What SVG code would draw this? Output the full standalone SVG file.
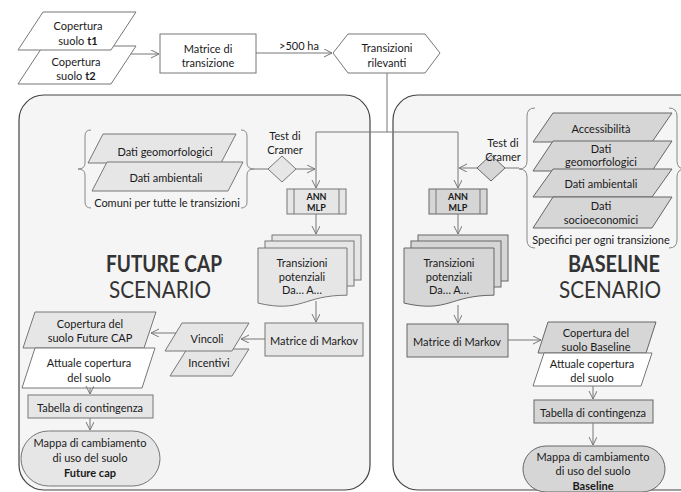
<svg xmlns="http://www.w3.org/2000/svg" width="681" height="492" viewBox="0 0 681 492">
<defs>
<marker id="ah" markerWidth="10" markerHeight="10" refX="8" refY="4" orient="auto" markerUnits="userSpaceOnUse">
<path d="M0,0 L8,4 L0,8" fill="none" stroke="#777" stroke-width="1"/>
</marker>
<style>
text{font-family:Lato,"Liberation Sans",sans-serif;font-size:11px;fill:#1a1a1a;text-anchor:middle;dominant-baseline:central}
.b{font-weight:bold}
.s{font-size:9px;font-weight:bold}
.big{font-size:23px;fill:#333}
.panel{fill:#f5f5f5;stroke:#444;stroke-width:1.2}
.w{fill:#fff;stroke:#777;stroke-width:1}
.l{fill:#e6e6e6;stroke:#777;stroke-width:1}
.d{fill:#d6d6d6;stroke:#666;stroke-width:1}
.c{fill:none;stroke:#777;stroke-width:1}
.ca{fill:none;stroke:#777;stroke-width:1;marker-end:url(#ah)}
.br{fill:none;stroke:#888;stroke-width:1}
</style>
</defs>
<rect width="681" height="492" fill="#fff"/>

<g id="panel-future">
<rect class="panel" x="19" y="95" width="351" height="395" rx="25"/>
<text class="big b" x="164" y="263" textLength="116" lengthAdjust="spacingAndGlyphs">FUTURE CAP</text>
<text class="big" x="160" y="289" textLength="102" lengthAdjust="spacingAndGlyphs">SCENARIO</text>
</g>
<g id="panel-baseline">
<rect class="panel" x="393" y="95" width="320" height="395" rx="25"/>
<text class="big b" x="614" y="263" textLength="92" lengthAdjust="spacingAndGlyphs">BASELINE</text>
<text class="big" x="610" y="289" textLength="102" lengthAdjust="spacingAndGlyphs">SCENARIO</text>
</g>

<g id="t2">
<polygon class="w" points="43,46 136,46 111,84 18,84"/>
<text x="76" y="61">Copertura</text>
<text x="76" y="75">suolo <tspan class="b">t2</tspan></text>
</g>
<g id="t1">
<polygon class="w" points="43,12 136,12 111,50 18,50"/>
<text x="78" y="25">Copertura</text>
<text x="78" y="40">suolo <tspan class="b">t1</tspan></text>
</g>
<g id="matrice-transizione">
<rect class="w" x="160" y="34" width="96" height="39"/>
<text x="208" y="48">Matrice di</text>
<text x="208" y="62">transizione</text>
</g>
<g id="transizioni-rilevanti">
<polygon class="w" points="333,53 348,34 425,34 440,53 425,73 348,73"/>
<text x="387" y="47">Transizioni</text>
<text x="387" y="62">rilevanti</text>
</g>

<!-- Future CAP side -->
<g id="brace-left">
<path class="br" d="M91,130 Q85,130 85,136 L85,163 Q85,169 78,169 Q85,169 85,175 L85,202 Q85,208 91,208"/>
<path class="br" d="M241,130 Q247,130 247,136 L247,163 Q247,169 254,169 Q247,169 247,175 L247,202 Q247,208 241,208"/>
<text x="167" y="202">Comuni per tutte le transizioni</text>
</g>
<g id="dati-geomorfologici-l">
<polygon class="l" points="103,134 236,134 221,163 88,163"/>
<text x="165" y="151">Dati geomorfologici</text>
</g>
<g id="dati-ambientali-l">
<polygon class="l" points="107,162 243,162 228,191 92,191"/>
<text x="166" y="177">Dati ambientali</text>
</g>
<g id="cramer-l">
<polygon class="l" points="268,169 282,156 296,169 282,182"/>
<text x="285" y="135">Test di</text>
<text x="285" y="149">Cramer</text>
</g>
<g id="ann-l">
<rect class="l" x="287" y="189" width="59" height="25"/>
<line class="c" x1="294" y1="189" x2="294" y2="214"/>
<line class="c" x1="339" y1="189" x2="339" y2="214"/>
<text class="s" x="316.5" y="196.5">ANN</text>
<text class="s" x="316.5" y="207">MLP</text>
</g>
<g id="docs-l">
<rect class="l" x="272" y="235" width="89" height="45"/>
<rect class="l" x="265" y="241" width="89" height="45"/>
<path class="l" d="M258,248 H347 V295.2 C302.5,295.2 302.5,313.3 258,303.1 Z"/>
<text x="302" y="262">Transizioni</text>
<text x="302" y="276">potenziali</text>
<text x="302" y="289">Da… A…</text>
</g>
<g id="markov-l">
<rect class="l" x="265" y="323" width="98" height="33"/>
<text x="314" y="340">Matrice di Markov</text>
</g>
<g id="incentivi">
<polygon class="l" points="187,349 249,349 232,376 170,376"/>
<text x="209" y="362">Incentivi</text>
</g>
<g id="vincoli">
<polygon class="l" points="182,323 249,323 232,351 165,351"/>
<text x="207" y="338">Vincoli</text>
</g>
<g id="copertura-futurecap">
<polygon class="l" points="35,312 156,312 144,348 23,348"/>
<text x="90" y="323">Copertura del</text>
<text x="90" y="337">suolo Future CAP</text>
</g>
<g id="attuale-l">
<polygon class="w" points="35,348 155,348 142,388 22,388"/>
<text x="89" y="362">Attuale copertura</text>
<text x="89" y="377">del suolo</text>
</g>
<g id="tabella-l">
<rect class="l" x="28" y="395" width="125" height="23"/>
<text x="90" y="407">Tabella di contingenza</text>
</g>
<g id="mappa-l">
<rect class="l" x="21" y="431" width="139" height="55" rx="27.5"/>
<text x="90" y="442">Mappa di cambiamento</text>
<text x="90" y="457">di uso del suolo</text>
<text class="b" x="90" y="472">Future cap</text>
</g>

<!-- Baseline side -->
<g id="brace-right">
<path class="br" d="M535,108 Q527,108 527,116 L527,161 Q527,169 519,169 Q527,169 527,177 L527,240 Q527,248 535,248"/>
<path class="br" d="M669,108 Q677,108 677,116 L677,161 Q677,169 685,169 Q677,169 677,177 L677,240 Q677,248 669,248"/>
<text x="601" y="239">Specifici per ogni transizione</text>
</g>
<g id="accessibilita">
<polygon class="d" points="553,113 672,113 652,142 533,142"/>
<text x="601" y="128">Accessibilità</text>
</g>
<g id="dati-geomorfologici-r">
<polygon class="d" points="553,141 672,141 652,171 533,171"/>
<text x="601" y="148">Dati</text>
<text x="601" y="161">geomorfologici</text>
</g>
<g id="dati-ambientali-r">
<polygon class="d" points="553,169 672,169 652,197 533,197"/>
<text x="601" y="183">Dati ambientali</text>
</g>
<g id="dati-socioeconomici">
<polygon class="d" points="553,197 672,197 652,228 533,228"/>
<text x="601" y="205">Dati</text>
<text x="601" y="219">socioeconomici</text>
</g>
<g id="cramer-r">
<polygon class="d" points="477,168 491,155 505,168 491,181"/>
<text x="503" y="142">Test di</text>
<text x="503" y="156">Cramer</text>
</g>
<g id="ann-r">
<rect class="d" x="429" y="189" width="58" height="25"/>
<line class="c" x1="436" y1="189" x2="436" y2="214"/>
<line class="c" x1="480" y1="189" x2="480" y2="214"/>
<text class="s" x="458" y="196.5">ANN</text>
<text class="s" x="458" y="207">MLP</text>
</g>
<g id="docs-r">
<rect class="d" x="418" y="235" width="90" height="46"/>
<rect class="d" x="411" y="241" width="90" height="46"/>
<path class="d" d="M404,248 H494 V295.2 C449,295.2 449,313.3 404,303.1 Z"/>
<text x="449" y="262">Transizioni</text>
<text x="449" y="276">potenziali</text>
<text x="449" y="289">Da… A…</text>
</g>
<g id="markov-r">
<rect class="d" x="407" y="324" width="101" height="33"/>
<text x="457" y="341">Matrice di Markov</text>
</g>
<g id="copertura-baseline">
<polygon class="d" points="548,322 656,322 646,353 538,353"/>
<text x="596" y="332">Copertura del</text>
<text x="596" y="346">suolo Baseline</text>
</g>
<g id="attuale-r">
<polygon class="w" points="544,353 652,353 641,386 533,386"/>
<text x="592" y="363">Attuale copertura</text>
<text x="592" y="377">del suolo</text>
</g>
<g id="tabella-r">
<rect class="d" x="534" y="400" width="119" height="23"/>
<text x="593" y="412">Tabella di contingenza</text>
</g>
<g id="mappa-r">
<rect class="d" x="523" y="446" width="142" height="46" rx="23"/>
<text x="593" y="456">Mappa di cambiamento</text>
<text x="593" y="470">di uso del suolo</text>
<text class="b" x="593" y="485">Baseline</text>
</g>

<g id="connectors">
<line class="ca" x1="131" y1="54" x2="159" y2="54"/>
<line class="ca" x1="256" y1="53" x2="332" y2="53"/>
<text x="299" y="45">&gt;500 ha</text>
<polyline class="c" points="387,73 387,132"/>
<polyline class="ca" points="316,132 316,188"/>
<line class="c" x1="316" y1="132" x2="458" y2="132"/>
<polyline class="ca" points="458,132 458,188"/>
<line class="c" x1="254" y1="169" x2="268" y2="169"/>
<line class="ca" x1="296" y1="169" x2="315" y2="169"/>
<line class="c" x1="505" y1="168" x2="519" y2="168"/>
<line class="ca" x1="477" y1="168" x2="459" y2="168"/>
<line class="ca" x1="316" y1="214" x2="316" y2="234"/>
<line class="ca" x1="316" y1="301" x2="316" y2="322"/>
<line class="ca" x1="265" y1="339" x2="241" y2="339"/>
<line class="ca" x1="176" y1="333" x2="151" y2="333"/>
<line class="ca" x1="90" y1="388" x2="90" y2="394"/>
<line class="ca" x1="90" y1="418" x2="90" y2="430"/>
<line class="ca" x1="458" y1="214" x2="458" y2="234"/>
<line class="ca" x1="458" y1="305" x2="458" y2="323"/>
<line class="ca" x1="508" y1="340" x2="541" y2="340"/>
<line class="ca" x1="593" y1="386" x2="593" y2="399"/>
<line class="ca" x1="593" y1="423" x2="593" y2="445"/>
</g>
</svg>
